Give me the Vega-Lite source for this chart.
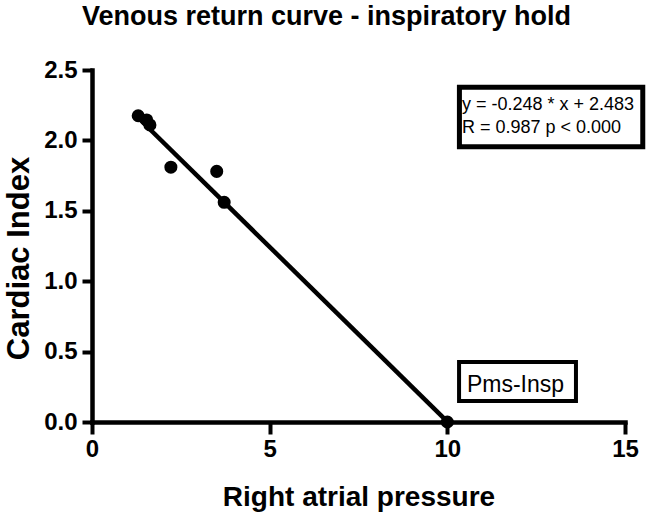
{
  "$schema": "https://vega.github.io/schema/vega-lite/v6.json",
  "width": 533,
  "height": 352,
  "autosize": {"type": "none"},
  "padding": {"left": 92, "top": 70, "right": 23, "bottom": 96},
  "background": "white",
  "title": {
    "text": "Venous return curve - inspiratory hold",
    "font": "Liberation Sans",
    "fontSize": 27,
    "fontWeight": "bold",
    "color": "black",
    "anchor": "middle",
    "baseline": "alphabetic",
    "offset": 6,
    "dx": -32
  },
  "config": {
    "view": {"stroke": null},
    "axis": {
      "domainColor": "black",
      "domainWidth": 4.5,
      "domainCap": "square",
      "tickColor": "black",
      "tickWidth": 4,
      "grid": false,
      "labelFont": "Liberation Sans",
      "labelFontSize": 24,
      "labelFontWeight": "bold",
      "labelColor": "black",
      "titleFont": "Liberation Sans",
      "titleFontWeight": "bold",
      "titleColor": "black"
    }
  },
  "datasets": {
    "points": [
      {"x": 1.30, "y": 2.175},
      {"x": 1.54, "y": 2.145},
      {"x": 1.63, "y": 2.11},
      {"x": 2.22, "y": 1.81},
      {"x": 3.51, "y": 1.78},
      {"x": 3.72, "y": 1.56},
      {"x": 10.0, "y": 0.0}
    ],
    "fit": [
      {"x": 1.30, "y": 2.161},
      {"x": 10.0, "y": 0.003}
    ],
    "box1": [{"x": 10.34, "x2": 15.50, "y": 2.377, "y2": 1.955}],
    "box2": [{"x": 10.33, "x2": 13.62, "y": 0.426, "y2": 0.149}],
    "eq": [
      {"x": 10.41, "y": 2.216, "text": "y = -0.248 * x + 2.483"},
      {"x": 10.41, "y": 2.053, "text": "R = 0.987 p < 0.000"}
    ],
    "pms": [{"x": 10.55, "y": 0.213, "text": "Pms-Insp"}]
  },
  "layer": [
    {
      "data": {"name": "fit"},
      "mark": {"type": "line", "color": "black", "strokeWidth": 4.5},
      "encoding": {
        "x": {
          "field": "x", "type": "quantitative", "title": "Right atrial pressure",
          "scale": {"domain": [0, 15], "nice": false, "zero": false},
          "axis": {"values": [0, 5, 10, 15], "tickSize": 12, "labelPadding": 3, "titleFontSize": 28, "titlePadding": 22, "labelFlush": false}
        },
        "y": {
          "field": "y", "type": "quantitative", "title": "Cardiac Index",
          "scale": {"domain": [0, 2.5], "nice": false, "zero": false},
          "axis": {"values": [0, 0.5, 1, 1.5, 2, 2.5], "format": ".1f", "tickSize": 10, "labelPadding": 5, "titleFontSize": 31, "titlePadding": 8, "titleY": 188, "labelFlush": false}
        }
      }
    },
    {
      "data": {"name": "points"},
      "mark": {"type": "point", "filled": true, "color": "black", "opacity": 1, "size": 170},
      "encoding": {
        "x": {"field": "x", "type": "quantitative", "title": "Right atrial pressure"},
        "y": {"field": "y", "type": "quantitative", "title": "Cardiac Index"}
      }
    },
    {
      "data": {"name": "box1"},
      "mark": {"type": "rect", "fill": "white", "stroke": "black", "strokeWidth": 5},
      "encoding": {
        "x": {"field": "x", "type": "quantitative", "title": "Right atrial pressure"},
        "x2": {"field": "x2"},
        "y": {"field": "y", "type": "quantitative", "title": "Cardiac Index"},
        "y2": {"field": "y2"}
      }
    },
    {
      "data": {"name": "box2"},
      "mark": {"type": "rect", "fill": "white", "stroke": "black", "strokeWidth": 4},
      "encoding": {
        "x": {"field": "x", "type": "quantitative", "title": "Right atrial pressure"},
        "x2": {"field": "x2"},
        "y": {"field": "y", "type": "quantitative", "title": "Cardiac Index"},
        "y2": {"field": "y2"}
      }
    },
    {
      "data": {"name": "eq"},
      "mark": {"type": "text", "align": "left", "baseline": "alphabetic", "font": "Liberation Sans", "fontSize": 18, "color": "black"},
      "encoding": {
        "x": {"field": "x", "type": "quantitative", "title": "Right atrial pressure"},
        "y": {"field": "y", "type": "quantitative", "title": "Cardiac Index"},
        "text": {"field": "text"}
      }
    },
    {
      "data": {"name": "pms"},
      "mark": {"type": "text", "align": "left", "baseline": "alphabetic", "font": "Liberation Sans", "fontSize": 23, "color": "black"},
      "encoding": {
        "x": {"field": "x", "type": "quantitative", "title": "Right atrial pressure"},
        "y": {"field": "y", "type": "quantitative", "title": "Cardiac Index"},
        "text": {"field": "text"}
      }
    }
  ]
}
